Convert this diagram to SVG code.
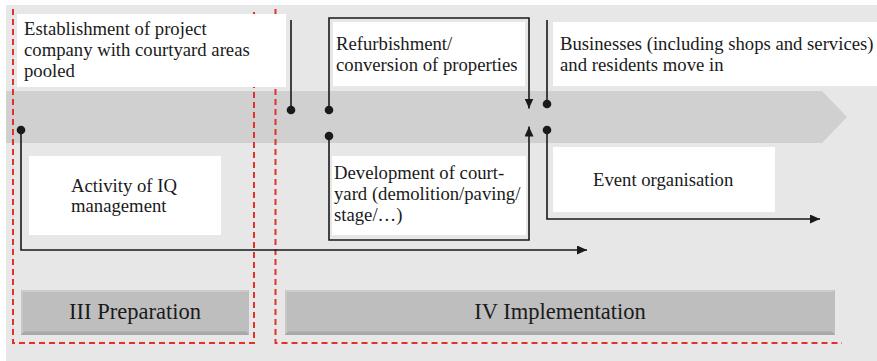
<svg xmlns="http://www.w3.org/2000/svg" width="877" height="361" viewBox="0 0 877 361">
<defs>
<style>
.box{fill:#ffffff}
.t{font-family:"Liberation Serif","Times New Roman",serif;font-size:18.7px;fill:#1a1a1a}
.lbl{font-family:"Liberation Serif","Times New Roman",serif;font-size:22.5px;fill:#1a1a1a;text-anchor:middle}
.ln{fill:none;stroke:#1a1a1a;stroke-width:1.6}
.dot{fill:#1a1a1a}
.red{fill:none;stroke:#e3302b;stroke-width:2;stroke-dasharray:6 4}
</style>
<marker id="ah" markerUnits="userSpaceOnUse" markerWidth="10" markerHeight="9" refX="10" refY="4.5" orient="auto">
<path d="M0,0 L10,4.5 L0,9 z" fill="#1a1a1a"/>
</marker>
</defs>
<rect x="0" y="0" width="877" height="361" fill="#ffffff"/>
<rect x="6" y="5" width="871" height="356" fill="#e7e7e7"/>
<g id="timeline">
<polygon points="6,91 822,91 847,117 822,143 6,143" fill="#cfd0cf"/>
</g>
<g id="phases">
<path class="red" d="M13,9 V343 H254 V9"/>
<path class="red" d="M275.5,9 V343 H842"/>
</g>
<g id="node-establishment">
<rect class="box" x="17" y="14" width="269" height="73"/>
<text class="t" x="24" y="35">Establishment of project</text>
<text class="t" x="24" y="56">company with courtyard areas</text>
<text class="t" x="24" y="76.5">pooled</text>
</g>
<g id="node-refurbishment">
<rect class="box" x="333" y="22" width="192" height="64"/>
<text class="t" x="336" y="50">Refurbishment/</text>
<text class="t" x="336" y="71">conversion of properties</text>
</g>
<g id="node-businesses">
<rect class="box" x="553" y="22" width="324" height="64"/>
<text class="t" x="560" y="50">Businesses (including shops and services)</text>
<text class="t" x="560" y="70.5">and residents move in</text>
</g>
<g id="node-activity">
<rect class="box" x="29" y="156" width="192" height="79"/>
<text class="t" x="71" y="192">Activity of IQ</text>
<text class="t" x="71" y="212">management</text>
</g>
<g id="node-development">
<rect class="box" x="332" y="156" width="194" height="79"/>
<text class="t" x="334" y="179">Development of court-</text>
<text class="t" x="334" y="200">yard (demolition/paving/</text>
<text class="t" x="334" y="221">stage/…)</text>
</g>
<g id="node-event">
<rect class="box" x="553" y="147" width="222" height="65"/>
<text class="t" x="593" y="186">Event organisation</text>
</g>
<g id="connectors">
<path class="ln" d="M21,130 V250 H587" marker-end="url(#ah)"/>
<circle class="dot" cx="21" cy="130" r="4.3"/>
<path class="ln" d="M291,20 V110"/>
<circle class="dot" cx="291" cy="110" r="4.3"/>
<path class="ln" d="M329,110 V18 H529 V108.5" marker-end="url(#ah)"/>
<circle class="dot" cx="329" cy="110" r="4.3"/>
<path class="ln" d="M329,136 V240 H529 V126.5" marker-end="url(#ah)"/>
<circle class="dot" cx="329" cy="136" r="4.3"/>
<path class="ln" d="M547,20 V104"/>
<circle class="dot" cx="547" cy="104" r="4.3"/>
<path class="ln" d="M547,130 V219 H820" marker-end="url(#ah)"/>
<circle class="dot" cx="547" cy="130" r="4.3"/>
</g>
<g id="phase-preparation">
<rect x="21" y="290" width="228" height="45" fill="#bebebe"/>
<polygon points="21,290 249,290 247,292 23,292" fill="#cbcbcb"/>
<polygon points="21,290 23,292 23,332 21,335" fill="#c8c8c8"/>
<polygon points="21,335 24,331.5 246,331.5 249,335" fill="#a8a8a8"/>
<text class="lbl" x="135" y="319">III Preparation</text>
</g>
<g id="phase-implementation">
<rect x="285" y="290" width="550" height="45" fill="#bebebe"/>
<polygon points="285,290 835,290 833,292 287,292" fill="#cbcbcb"/>
<polygon points="285,290 287,292 287,332 285,335" fill="#c8c8c8"/>
<polygon points="285,335 288,331.5 832,331.5 835,335" fill="#a8a8a8"/>
<text class="lbl" x="560" y="319">IV Implementation</text>
</g>
</svg>
